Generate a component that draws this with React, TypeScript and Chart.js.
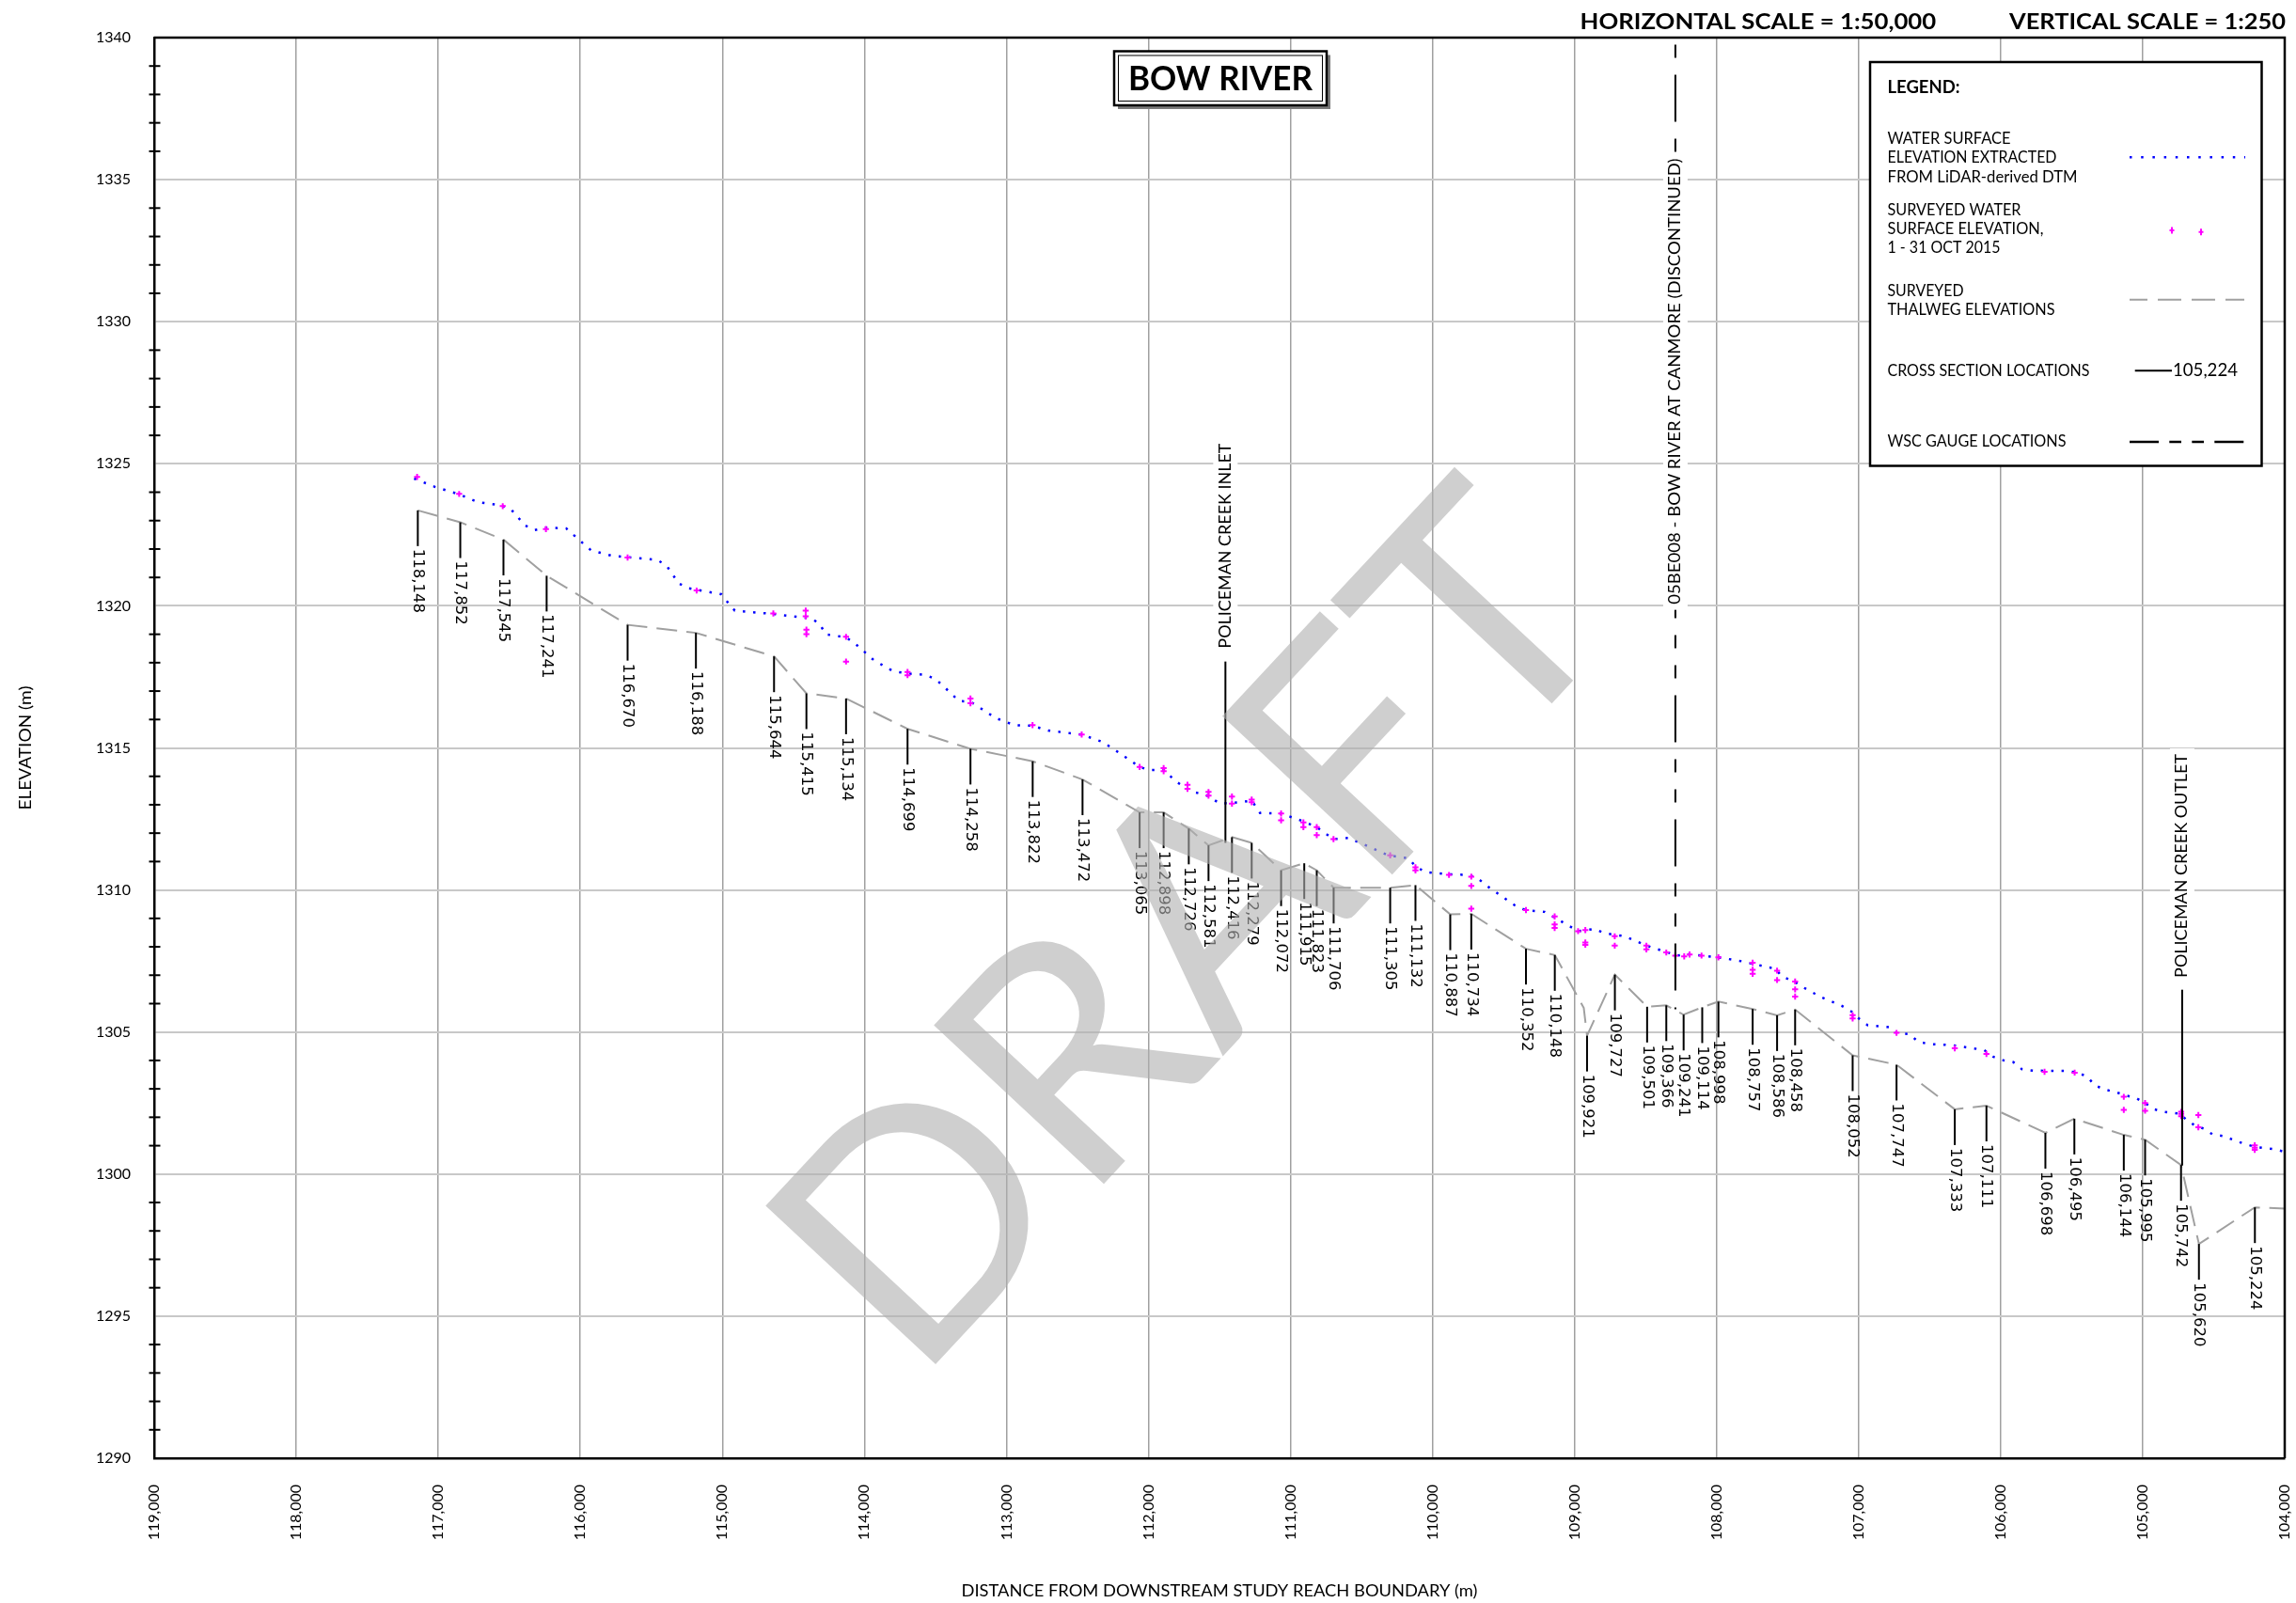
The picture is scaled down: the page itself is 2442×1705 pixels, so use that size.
import React, { useEffect, useRef } from 'react';
import { Chart, registerables } from 'chart.js';

Chart.register(...registerables);

// ---------- axis ticks ----------
const X_TICKS = [104000, 105000, 106000, 107000, 108000, 109000, 110000, 111000, 112000, 113000, 114000, 115000, 116000, 117000, 118000, 119000];
const Y_TICKS = [1290, 1295, 1300, 1305, 1310, 1315, 1320, 1325, 1330, 1335, 1340];

// ---------- cross sections (label, plotted distance, thalweg elevation) ----------
const XS_LABELS = ['118,148', '117,852', '117,545', '117,241', '116,670', '116,188', '115,644', '115,415', '115,134', '114,699', '114,258', '113,822', '113,472', '113,065', '112,898', '112,726', '112,581', '112,416', '112,279', '112,072', '111,915', '111,823', '111,706', '111,305', '111,132', '110,887', '110,734', '110,352', '110,148', '109,921', '109,727', '109,501', '109,366', '109,241', '109,114', '108,998', '108,757', '108,586', '108,458', '108,052', '107,747', '107,333', '107,111', '106,698', '106,495', '106,144', '105,995', '105,742', '105,620', '105,224'];
const XS_POS = [117144, 116845, 116541, 116237, 115667, 115186, 114636, 114408, 114129, 113696, 113253, 112815, 112464, 112062, 111893, 111716, 111577, 111412, 111273, 111066, 110903, 110815, 110696, 110298, 110120, 109875, 109727, 109342, 109139, 108912, 108716, 108489, 108354, 108232, 108101, 107987, 107746, 107574, 107447, 107042, 106733, 106323, 106100, 105685, 105481, 105133, 104983, 104730, 104604, 104210];
const XS_BED = [1323.36, 1322.94, 1322.33, 1321.06, 1319.33, 1319.05, 1318.22, 1316.92, 1316.74, 1315.67, 1314.97, 1314.53, 1313.89, 1312.73, 1312.73, 1312.16, 1311.57, 1311.86, 1311.66, 1310.69, 1310.94, 1310.69, 1310.08, 1310.08, 1310.17, 1309.14, 1309.16, 1307.93, 1307.71, 1304.87, 1307.02, 1305.89, 1305.94, 1305.61, 1305.87, 1306.07, 1305.81, 1305.59, 1305.79, 1304.18, 1303.85, 1302.28, 1302.41, 1301.45, 1301.95, 1301.38, 1301.21, 1300.32, 1297.54, 1298.83];

// ---------- surveyed thalweg line ----------
const THALWEG_X = [117144, 116845, 116541, 116237, 115667, 115186, 114636, 114408, 114129, 113696, 113253, 112815, 112464, 112062, 111893, 111716, 111577, 111412, 111273, 111066, 110903, 110815, 110696, 110298, 110120, 109875, 109727, 109342, 109139, 108935, 108912, 108716, 108489, 108354, 108232, 108101, 107987, 107746, 107574, 107447, 107042, 106733, 106323, 106100, 105685, 105481, 105133, 104983, 104730, 104604, 104210, 103900];
const THALWEG_Y = [1323.36, 1322.94, 1322.33, 1321.06, 1319.33, 1319.05, 1318.22, 1316.92, 1316.74, 1315.67, 1314.97, 1314.53, 1313.89, 1312.73, 1312.73, 1312.16, 1311.57, 1311.86, 1311.66, 1310.69, 1310.94, 1310.69, 1310.08, 1310.08, 1310.17, 1309.14, 1309.16, 1307.93, 1307.71, 1305.85, 1304.87, 1307.02, 1305.89, 1305.94, 1305.61, 1305.87, 1306.07, 1305.81, 1305.59, 1305.79, 1304.18, 1303.85, 1302.28, 1302.41, 1301.45, 1301.95, 1301.38, 1301.21, 1300.32, 1297.54, 1298.83, 1298.76];

// ---------- LiDAR water surface ----------
const LIDAR_X = [117170, 117020, 116861, 116722, 116563, 116490, 116389, 116320, 116243, 116100, 115985, 115923, 115775, 115459, 115393, 115307, 115236, 115008, 114958, 114912, 114633, 114370, 114312, 114274, 114127, 114051, 113932, 113797, 113696, 113569, 113498, 113445, 113333, 113253, 113076, 112943, 112816, 112706, 112470, 112322, 112198, 112062, 111997, 111893, 111805, 111687, 111598, 111495, 111347, 111273, 111214, 111066, 110918, 110815, 110697, 110593, 110460, 110313, 110165, 110120, 110047, 109884, 109742, 109677, 109616, 109418, 109347, 109211, 109140, 108975, 108861, 108790, 108646, 108494, 108354, 108283, 108202, 107987, 107822, 107582, 107544, 107455, 107404, 107265, 107118, 107050, 106999, 106936, 106784, 106733, 106644, 106581, 106508, 106347, 106197, 106115, 106053, 105983, 105910, 105850, 105773, 105541, 105464, 105391, 105338, 105272, 105193, 105126, 105045, 104983, 104919, 104846, 104729, 104698, 104632, 104570, 104509, 104434, 104288, 104211, 104067, 103950];
const LIDAR_Y = [1324.48, 1324.18, 1323.94, 1323.65, 1323.54, 1323.41, 1322.83, 1322.67, 1322.75, 1322.73, 1322.22, 1321.95, 1321.76, 1321.62, 1321.42, 1320.79, 1320.62, 1320.41, 1320.10, 1319.83, 1319.71, 1319.55, 1319.35, 1319.00, 1318.89, 1318.61, 1318.08, 1317.70, 1317.62, 1317.57, 1317.42, 1317.18, 1316.65, 1316.63, 1316.05, 1315.80, 1315.78, 1315.61, 1315.47, 1315.21, 1314.80, 1314.33, 1314.22, 1314.23, 1313.81, 1313.45, 1313.35, 1313.04, 1313.09, 1313.15, 1312.71, 1312.69, 1312.43, 1312.21, 1311.79, 1311.83, 1311.55, 1311.22, 1311.11, 1310.82, 1310.63, 1310.55, 1310.53, 1310.39, 1310.14, 1309.45, 1309.29, 1309.23, 1309.03, 1308.55, 1308.63, 1308.48, 1308.37, 1308.04, 1307.82, 1307.69, 1307.74, 1307.63, 1307.49, 1307.22, 1306.97, 1306.78, 1306.61, 1306.23, 1305.92, 1305.72, 1305.48, 1305.24, 1305.17, 1304.97, 1304.93, 1304.66, 1304.58, 1304.54, 1304.43, 1304.36, 1304.13, 1304.01, 1303.94, 1303.69, 1303.64, 1303.63, 1303.58, 1303.43, 1303.13, 1302.98, 1302.89, 1302.78, 1302.67, 1302.50, 1302.28, 1302.19, 1302.12, 1301.93, 1301.71, 1301.60, 1301.40, 1301.34, 1301.07, 1300.96, 1300.87, 1300.72];

// ---------- surveyed water surface, 1 - 31 Oct 2015 ----------
const SURVEY_X = [117149, 116853, 116546, 116242, 115667, 115181, 114641, 114413, 114413, 114408, 114408, 114129, 114129, 113696, 113696, 113253, 113253, 112816, 112470, 112062, 111893, 111893, 111725, 111725, 111577, 111577, 111412, 111412, 111273, 111273, 111066, 111066, 110909, 110909, 110815, 110815, 110697, 110298, 110120, 110120, 109884, 109727, 109727, 109727, 109342, 109140, 109140, 109140, 108975, 108924, 108924, 108924, 108717, 108717, 108494, 108494, 108354, 108291, 108228, 108190, 108106, 107987, 107746, 107746, 107746, 107574, 107574, 107447, 107447, 107447, 107042, 107042, 106733, 106323, 106100, 105691, 105479, 105133, 105133, 104983, 104983, 104729, 104729, 104729, 104608, 104608, 104211, 104211, 104211];
const SURVEY_Y = [1324.54, 1323.94, 1323.51, 1322.70, 1321.70, 1320.54, 1319.73, 1319.83, 1319.63, 1319.16, 1319.00, 1318.91, 1318.04, 1317.67, 1317.56, 1316.74, 1316.57, 1315.80, 1315.47, 1314.33, 1314.29, 1314.18, 1313.70, 1313.56, 1313.45, 1313.32, 1313.29, 1313.04, 1313.18, 1313.09, 1312.69, 1312.45, 1312.38, 1312.21, 1312.21, 1311.93, 1311.79, 1311.22, 1310.80, 1310.69, 1310.53, 1310.47, 1310.14, 1309.34, 1309.29, 1309.07, 1308.79, 1308.66, 1308.55, 1308.59, 1308.15, 1308.07, 1308.37, 1308.04, 1308.04, 1307.91, 1307.80, 1307.69, 1307.66, 1307.73, 1307.69, 1307.63, 1307.44, 1307.19, 1307.05, 1307.16, 1306.83, 1306.78, 1306.50, 1306.25, 1305.59, 1305.48, 1304.97, 1304.43, 1304.23, 1303.60, 1303.57, 1302.72, 1302.26, 1302.50, 1302.23, 1302.19, 1302.12, 1302.04, 1302.08, 1301.65, 1301.01, 1300.93, 1300.85];

// ---------- features ----------
const GAUGE_LABEL = '05BE008 - BOW RIVER AT CANMORE (DISCONTINUED)';
const GAUGE_X = 108290;
const GAUGE_Y_RANGE = [1340, 1305.8];
const GAUGE_LABEL_Y = 1327.9;

const INLET_LABEL = 'POLICEMAN CREEK INLET';
const INLET_X = 111458;
const INLET_Y_RANGE = [1318.04, 1311.66];
const INLET_LABEL_Y = 1322.11;

const OUTLET_LABEL = 'POLICEMAN CREEK OUTLET';
const OUTLET_X = 104722;
const OUTLET_Y_RANGE = [1306.49, 1300.3];
const OUTLET_LABEL_Y = 1310.85;

const TITLE = 'BOW RIVER';
const H_SCALE = 'HORIZONTAL SCALE = 1:50,000';
const V_SCALE = 'VERTICAL SCALE = 1:250';
const X_TITLE = 'DISTANCE FROM DOWNSTREAM STUDY REACH BOUNDARY (m)';
const Y_TITLE = 'ELEVATION (m)';
const WATERMARK = 'DRAFT';

const LEGEND_HEAD = 'LEGEND:';
const LEGEND_LIDAR = ['WATER SURFACE', 'ELEVATION EXTRACTED', 'FROM LiDAR-derived DTM'];
const LEGEND_SURVEY = ['SURVEYED WATER', 'SURFACE ELEVATION,', '1 - 31 OCT 2015'];
const LEGEND_THALWEG = ['SURVEYED', 'THALWEG ELEVATIONS'];
const LEGEND_XS = 'CROSS SECTION LOCATIONS';
const LEGEND_XS_SAMPLE = '105,224';
const LEGEND_GAUGE = 'WSC GAUGE LOCATIONS';

const SANS = 'Lato, "Open Sans", sans-serif';

function drawText(ctx: CanvasRenderingContext2D, text: string, x: number, y: number, o: any) {
  ctx.save();
  ctx.translate(x, y);
  if (o.rotate) ctx.rotate(o.rotate);
  ctx.font = o.font;
  ctx.fillStyle = o.color || '#000';
  ctx.textAlign = o.align || 'left';
  ctx.textBaseline = o.baseline || 'middle';
  if (o.width) {
    const w = ctx.measureText(text).width;
    if (w > 0) ctx.scale(o.width / w, 1);
  }
  ctx.fillText(text, 0, 0);
  ctx.restore();
}

function drawPlus(ctx: CanvasRenderingContext2D, x: number, y: number) {
  ctx.save();
  ctx.strokeStyle = '#ff00ff';
  ctx.lineWidth = 2;
  ctx.beginPath();
  ctx.moveTo(x, y - 3.5); ctx.lineTo(x, y + 3.5);
  ctx.moveTo(x - 2.5, y); ctx.lineTo(x + 2.5, y);
  ctx.stroke();
  ctx.restore();
}

function labelledLine(ctx: CanvasRenderingContext2D, xs: any, ys: any, xv: number, range: number[], label: string, labelY: number, len: number, dash: number[] | null) {
  const px = xs.getPixelForValue(xv);
  const y0 = ys.getPixelForValue(range[0]);
  const y1 = ys.getPixelForValue(range[1]);
  ctx.save();
  ctx.strokeStyle = '#000';
  ctx.lineWidth = 2;
  if (dash) { ctx.setLineDash(dash); ctx.lineDashOffset = 92.5; }
  ctx.beginPath(); ctx.moveTo(px, y0); ctx.lineTo(px, y1); ctx.stroke();
  ctx.setLineDash([]);
  const cy = ys.getPixelForValue(labelY);
  ctx.fillStyle = '#fff';
  ctx.fillRect(px - 13, cy - len / 2 - 6, 26, len + 12);
  ctx.restore();
  drawText(ctx, label, px, cy, { font: `17px ${SANS}`, align: 'center', rotate: -Math.PI / 2, width: len });
}

const overlay = {
  id: 'overlay',
  afterDatasetsDraw(chart: any) {
    const { ctx, chartArea: ca, scales } = chart;
    const xs = scales.x, ys = scales.y;
    ctx.save();
    // frame top/right
    ctx.strokeStyle = '#000';
    ctx.lineWidth = 2.5;
    ctx.beginPath();
    ctx.moveTo(ca.left, ca.top); ctx.lineTo(ca.right, ca.top); ctx.lineTo(ca.right, ca.bottom);
    ctx.stroke();
    // minor y ticks
    ctx.lineWidth = 2;
    for (let v = Math.ceil(ys.min); v <= ys.max; v++) {
      if (v % 5 === 0) continue;
      const py = ys.getPixelForValue(v);
      ctx.beginPath(); ctx.moveTo(ca.left - 5.5, py); ctx.lineTo(ca.left + 6.5, py); ctx.stroke();
    }
    // cross sections
    ctx.lineWidth = 2;
    XS_LABELS.forEach((lab, i) => {
      const px = xs.getPixelForValue(XS_POS[i]);
      const py = ys.getPixelForValue(XS_BED[i]);
      ctx.beginPath(); ctx.moveTo(px, py); ctx.lineTo(px, py + 38); ctx.stroke();
      drawText(ctx, lab, px, py + 41, { font: '16.5px "DejaVu Sans", Verdana, sans-serif', rotate: Math.PI / 2, align: 'left', baseline: 'middle' });
    });
    ctx.restore();
    // gauge, inlet, outlet
    labelledLine(ctx, xs, ys, GAUGE_X, GAUGE_Y_RANGE, GAUGE_LABEL, GAUGE_LABEL_Y, 474, [50, 18, 14, 18, 14, 18]);
    labelledLine(ctx, xs, ys, INLET_X, INLET_Y_RANGE, INLET_LABEL, INLET_LABEL_Y, 218, null);
    labelledLine(ctx, xs, ys, OUTLET_X, OUTLET_Y_RANGE, OUTLET_LABEL, OUTLET_LABEL_Y, 238, null);
  },
  afterDraw(chart: any) {
    const { ctx, chartArea: ca } = chart;
    // axis titles
    drawText(ctx, X_TITLE, (ca.left + ca.right) / 2, 1693, { font: `17px ${SANS}`, align: 'center', width: 549 });
    drawText(ctx, Y_TITLE, 28, (ca.top + ca.bottom) / 2, { font: `17px ${SANS}`, align: 'center', rotate: -Math.PI / 2, width: 132 });
    // scale texts
    drawText(ctx, H_SCALE, 1680.6, 23.5, { font: `bold 23px ${SANS}`, width: 378.6 });
    drawText(ctx, V_SCALE, 2137, 23.5, { font: `bold 23px ${SANS}`, width: 294 });
    // title box
    ctx.save();
    ctx.fillStyle = '#7a7a7a';
    ctx.fillRect(1189, 58.5, 226, 57.5);
    ctx.fillStyle = '#fff';
    ctx.fillRect(1185, 54.5, 226, 57.5);
    ctx.strokeStyle = '#000';
    ctx.lineWidth = 2.5;
    ctx.strokeRect(1185, 54.5, 226, 57.5);
    ctx.lineWidth = 1;
    ctx.strokeRect(1189.5, 59, 217, 48.5);
    ctx.restore();
    drawText(ctx, TITLE, 1298, 84, { font: `bold 37px ${SANS}`, align: 'center', width: 196 });
    // legend
    ctx.save();
    ctx.fillStyle = '#fff';
    ctx.fillRect(1989, 66, 416.5, 429.5);
    ctx.strokeStyle = '#000';
    ctx.lineWidth = 2.5;
    ctx.strokeRect(1989, 66, 416.5, 429.5);
    ctx.restore();
    const lx = 2007.5;
    const f = `17px ${SANS}`;
    drawText(ctx, LEGEND_HEAD, lx, 93.3, { font: `bold 18px ${SANS}`, width: 77 });
    const lidarW = [131, 180, 202];
    LEGEND_LIDAR.forEach((t, i) => drawText(ctx, t, lx, [147.3, 167.3, 188.3][i], { font: f, width: lidarW[i] }));
    const survW = [142, 166, 120];
    LEGEND_SURVEY.forEach((t, i) => drawText(ctx, t, lx, [223.3, 243.3, 264][i], { font: f, width: survW[i] }));
    const thW = [81, 178];
    LEGEND_THALWEG.forEach((t, i) => drawText(ctx, t, lx, [309.3, 329.3][i], { font: f, width: thW[i] }));
    drawText(ctx, LEGEND_XS, lx, 395, { font: f, width: 215 });
    drawText(ctx, LEGEND_GAUGE, lx, 470, { font: f, width: 190 });
    ctx.save();
    // lidar sample
    ctx.strokeStyle = '#0000ff'; ctx.lineWidth = 2.5; ctx.setLineDash([2.5, 9.7]);
    ctx.beginPath(); ctx.moveTo(2265, 167.3); ctx.lineTo(2388, 167.3); ctx.stroke();
    // thalweg sample
    ctx.strokeStyle = '#a0a0a0'; ctx.lineWidth = 2; ctx.setLineDash([25, 11]); ctx.lineDashOffset = 6;
    ctx.beginPath(); ctx.moveTo(2265, 318.7); ctx.lineTo(2387, 318.7); ctx.stroke();
    // xs sample
    ctx.strokeStyle = '#000'; ctx.setLineDash([]); ctx.lineDashOffset = 0;
    ctx.beginPath(); ctx.moveTo(2270.7, 394.3); ctx.lineTo(2310, 394.3); ctx.stroke();
    // gauge sample
    ctx.lineWidth = 2.5; ctx.setLineDash([31, 11.3, 12.7, 11.3, 12.7, 11.3]);
    ctx.beginPath(); ctx.moveTo(2265, 470); ctx.lineTo(2387, 470); ctx.stroke();
    ctx.restore();
    drawPlus(ctx, 2310, 245);
    drawPlus(ctx, 2341, 246.7);
    drawText(ctx, LEGEND_XS_SAMPLE, 2311, 394.3, { font: `19px ${SANS}`, width: 69 });
    // watermark
    drawText(ctx, WATERMARK, 1271, 992, { font: `345px ${SANS}`, align: 'center', rotate: -47 * Math.PI / 180, color: 'rgba(175,175,175,0.6)' });
  },
};

export default function App() {
  const ref = useRef<HTMLCanvasElement | null>(null);
  useEffect(() => {
    if (!ref.current) return;
    const pts = (xa: number[], ya: number[]) => xa.map((x, i) => ({ x, y: ya[i] }));
    const chart = new Chart(ref.current, {
      type: 'scatter',
      data: {
        datasets: [
          {
            label: 'Surveyed water surface elevation, 1 - 31 Oct 2015',
            data: pts(SURVEY_X, SURVEY_Y),
            showLine: false,
            pointStyle: 'cross',
            pointRadius: 3.2,
            pointBorderWidth: 2,
            borderColor: '#ff00ff',
            backgroundColor: '#ff00ff',
            order: 0,
          },
          {
            label: 'Water surface elevation extracted from LiDAR-derived DTM',
            data: pts(LIDAR_X, LIDAR_Y),
            showLine: true,
            borderColor: '#0000ff',
            borderWidth: 2.5,
            borderDash: [2.5, 8.5],
            borderCapStyle: 'butt',
            pointRadius: 0,
            tension: 0,
            order: 1,
          },
          {
            label: 'Surveyed thalweg elevations',
            data: pts(THALWEG_X, THALWEG_Y),
            showLine: true,
            borderColor: '#a0a0a0',
            borderWidth: 2,
            borderDash: [22, 10],
            pointRadius: 0,
            tension: 0,
            order: 2,
          },
        ],
      },
      options: {
        animation: false,
        responsive: false,
        devicePixelRatio: 1,
        events: [],
        layout: { padding: { top: 40, right: 12, left: 0, bottom: 0 } },
        plugins: { legend: { display: false }, tooltip: { enabled: false } },
        scales: {
          x: {
            type: 'linear',
            reverse: true,
            min: 104000,
            max: 119000,
            afterBuildTicks: (s: any) => { s.ticks = X_TICKS.map((v) => ({ value: v })); },
            afterFit: (s: any) => { s.height = 154; },
            ticks: {
              autoSkip: false,
              minRotation: 90,
              maxRotation: 90,
              padding: 28,
              color: '#000',
              font: { family: SANS, size: 16 },
              callback: (v: any) => Number(v).toLocaleString('en-US'),
            },
            grid: { color: '#a0a0a0', lineWidth: 1.5, drawTicks: false },
            border: { display: true, color: '#000', width: 2.5 },
          },
          y: {
            type: 'linear',
            min: 1290,
            max: 1340,
            afterBuildTicks: (s: any) => { s.ticks = Y_TICKS.map((v) => ({ value: v })); },
            afterFit: (s: any) => { s.width = 164; },
            ticks: {
              padding: 25,
              color: '#000',
              font: { family: SANS, size: 16 },
              callback: (v: any) => String(v),
            },
            grid: { color: '#c8c8c8', lineWidth: 2, drawTicks: false },
            border: { display: true, color: '#000', width: 2.5 },
          },
        },
      },
      plugins: [overlay],
    } as any);
    const fonts: any = (document as any).fonts;
    if (fonts && fonts.load) {
      Promise.all([
        fonts.load(`16px Lato`),
        fonts.load(`bold 16px Lato`),
        fonts.load(`16px "DejaVu Sans"`),
      ]).then(() => chart.update()).catch(() => {});
    }
    return () => chart.destroy();
  }, []);
  return (
    <div style={{ position: 'fixed', left: 0, top: 0, width: 2442, height: 1705, background: '#fff' }}>
      <canvas ref={ref} width={2442} height={1705} style={{ display: 'block', width: 2442, height: 1705 }} />
    </div>
  );
}
